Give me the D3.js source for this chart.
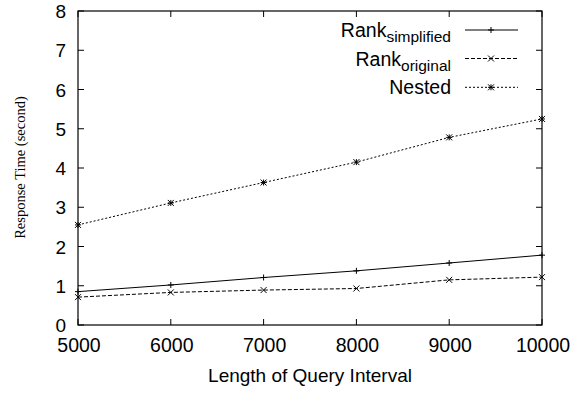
<!DOCTYPE html>
<html><head><meta charset="utf-8">
<script src="https://cdn.jsdelivr.net/npm/d3@7"></script>
<style>body{margin:0;background:#fff}</style>
</head><body><svg id="c" width="576" height="394"></svg>
<script>
const xValues = [5000, 6000, 7000, 8000, 9000, 10000];
const rankSimplified = [0.85, 1.02, 1.21, 1.38, 1.58, 1.78];
const rankOriginal = [0.71, 0.83, 0.89, 0.93, 1.15, 1.22];
const nested = [2.55, 3.11, 3.63, 4.15, 4.78, 5.25];
const yTicks = [0,1,2,3,4,5,6,7,8];
const xTicks = [5000,6000,7000,8000,9000,10000];

const svg = d3.select("#c");
const L=78, R=542, T=11, B=325;
const x = d3.scaleLinear().domain([5000,10000]).range([L,R]);
const y = d3.scaleLinear().domain([0,8]).range([B,T]);
const sans = "Liberation Sans, Arial, sans-serif";

const series = [
  {name:"Rank", sub:"simplified", vals:rankSimplified, dash:null, mark:"plus"},
  {name:"Rank", sub:"original", vals:rankOriginal, dash:"4,2", mark:"cross"},
  {name:"Nested", sub:null, vals:nested, dash:"2,2", mark:"star"}
];

function marker(g, cx, cy, type){
  const s=3;
  const p = d3.path();
  if(type==="plus"||type==="star"){ p.moveTo(cx-s,cy); p.lineTo(cx+s,cy); p.moveTo(cx,cy-s); p.lineTo(cx,cy+s); }
  if(type==="cross"||type==="star"){ p.moveTo(cx-s,cy-s); p.lineTo(cx+s,cy+s); p.moveTo(cx-s,cy+s); p.lineTo(cx+s,cy-s); }
  g.append("path").attr("d",p.toString()).attr("stroke","#000").attr("stroke-width",1).attr("fill","none");
}

// ticks (mirrored, inward)
const tl=6;
const tg = svg.append("g").attr("stroke","#000").attr("stroke-width",1);
yTicks.forEach(v=>{
  tg.append("line").attr("x1",L).attr("x2",L+tl).attr("y1",y(v)).attr("y2",y(v));
  tg.append("line").attr("x1",R).attr("x2",R-tl).attr("y1",y(v)).attr("y2",y(v));
});
xTicks.forEach(v=>{
  tg.append("line").attr("x1",x(v)).attr("x2",x(v)).attr("y1",B).attr("y2",B-tl);
  tg.append("line").attr("x1",x(v)).attr("x2",x(v)).attr("y1",T).attr("y2",T+tl);
});

// tick labels
svg.append("g").selectAll("text").data(yTicks).join("text")
  .attr("x",L-12).attr("y",d=>y(d)+7).attr("text-anchor","end")
  .attr("font-family",sans).attr("font-size",19).text(d=>d);
svg.append("g").selectAll("text").data(xTicks).join("text")
  .attr("x",d=>x(d)+1).attr("y",B+27).attr("text-anchor","middle")
  .attr("font-family",sans).attr("font-size",19.5).text(d=>d);

// axis titles
svg.append("text").attr("x",(L+R)/2).attr("y",B+57).attr("text-anchor","middle")
  .attr("font-family",sans).attr("font-size",19).text("Length of Query Interval");
svg.append("text").attr("transform",`translate(25,${167.5}) rotate(-90)`)
  .attr("text-anchor","middle").attr("font-family","Liberation Serif, Times New Roman, serif")
  .attr("font-size",14.5).text("Response Time (second)");

// lines
const line = d3.line().x((d,i)=>x(xValues[i])).y(d=>y(d));
series.forEach(s=>{
  svg.append("path").attr("d",line(s.vals)).attr("fill","none").attr("stroke","#000")
    .attr("stroke-width",1).attr("stroke-dasharray",s.dash);
  const g=svg.append("g");
  s.vals.forEach((v,i)=>marker(g,x(xValues[i]),y(v),s.mark));
});

// border
svg.append("rect").attr("x",L).attr("y",T).attr("width",R-L).attr("height",B-T)
  .attr("fill","none").attr("stroke","#000").attr("stroke-width",1.2);

// legend
const ly=[30,58.5,87.3];
series.forEach((s,i)=>{
  const t=svg.append("text").attr("x",451).attr("y",ly[i]+7).attr("text-anchor","end")
    .attr("font-family",sans).attr("font-size",19.5);
  t.append("tspan").text(s.name);
  if(s.sub) t.append("tspan").attr("font-size",15.5).attr("dy",5).text(s.sub);
  svg.append("line").attr("x1",465).attr("x2",518).attr("y1",ly[i]).attr("y2",ly[i])
    .attr("stroke","#000").attr("stroke-width",1).attr("stroke-dasharray",s.dash);
  marker(svg.append("g"),491,ly[i],s.mark);
});
</script></body></html>
